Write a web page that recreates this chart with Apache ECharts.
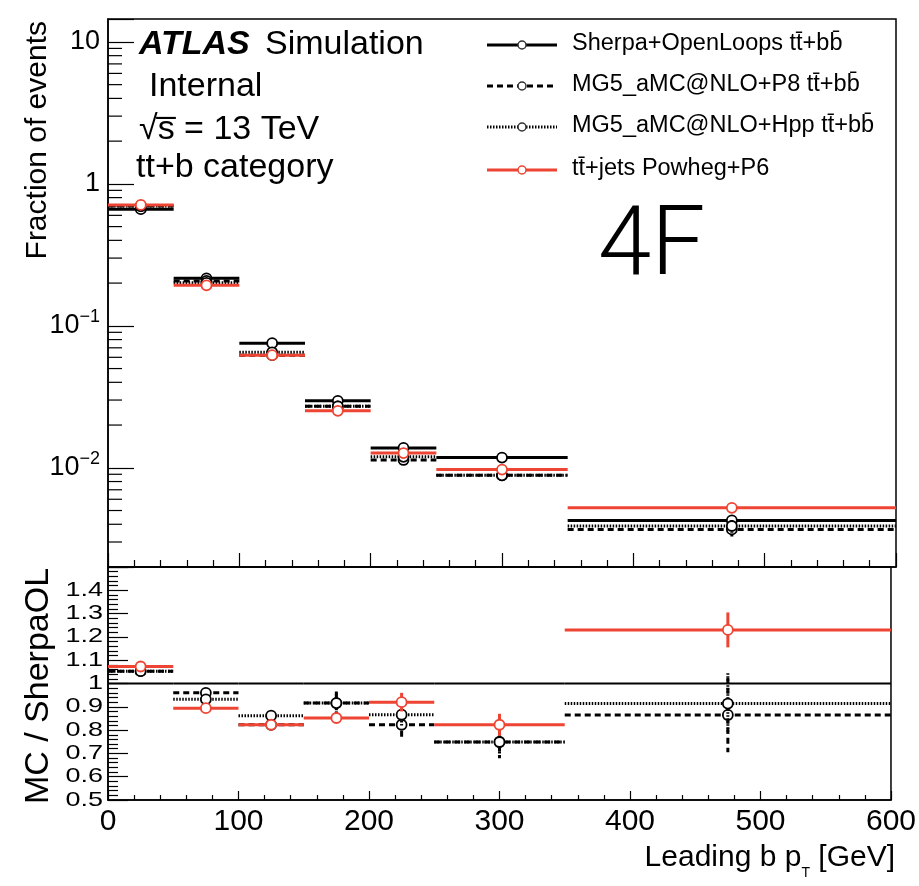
<!DOCTYPE html>
<html><head><meta charset="utf-8">
<script src="https://cdn.jsdelivr.net/npm/echarts@6/dist/echarts.min.js"></script>
<style>html,body{margin:0;padding:0;background:#fff}#c{width:919px;height:886px}</style>
</head><body><div id="c"></div>
<script>
// ---------------- data ----------------
const binEdges = [0, 50, 100, 150, 200, 250, 350, 600];

// Fraction of events (top panel)
const sherpaFrac = [0.663, 0.216, 0.0755, 0.0296, 0.0138, 0.0118, 0.00426];
const p8Frac     = [0.698, 0.207, 0.0621, 0.0271, 0.01135, 0.00885, 0.00368];
const hppFrac    = [0.698, 0.201, 0.0651, 0.0271, 0.01195, 0.00885, 0.00389];
const powhegFrac = [0.711, 0.193, 0.0621, 0.0252, 0.0127, 0.00971, 0.00522];

const sherpaFracErr = [0.004, 0.0015, 0.0006, 0.0003, 0.0002, 0.00015, 0.0001];
const p8FracErr     = [0.005, 0.002, 0.0008, 0.0005, 0.0004, 0.0003, 0.0004];
const hppFracErr    = [0.005, 0.002, 0.0008, 0.0005, 0.0004, 0.0003, 0.0004];
const powhegFracErr = [0.003, 0.001, 0.0005, 0.0003, 0.0003, 0.00025, 0.0002];

// MC / SherpaOL (ratio panel)
const sherpaRatio = [1, 1, 1, 1, 1, 1, 1];
const p8Ratio     = [1.053, 0.96, 0.823, 0.916, 0.823, 0.749, 0.865];
const hppRatio    = [1.053, 0.932, 0.862, 0.916, 0.866, 0.749, 0.914];
const powhegRatio = [1.073, 0.894, 0.823, 0.852, 0.920, 0.823, 1.230];

const p8RatioErr     = [0.008, 0.01, 0.02, 0.05, 0.06, 0.07, 0.16];
const hppRatioErr    = [0.008, 0.01, 0.02, 0.04, 0.05, 0.06, 0.13];
const powhegRatioErr = [0.005, 0.008, 0.012, 0.02, 0.04, 0.047, 0.075];

// tick labels
const ratioTickValues = [0.5, 0.6, 0.7, 0.8, 0.9, 1.0, 1.1, 1.2, 1.3, 1.4];
const ratioTickLabels = ['0.5', '0.6', '0.7', '0.8', '0.9', '1', '1.1', '1.2', '1.3', '1.4'];

const legendNames = [
  'Sherpa+OpenLoops tt\u0304+bb\u0304',
  'MG5_aMC@NLO+P8 tt\u0304+bb\u0304',
  'MG5_aMC@NLO+Hpp tt\u0304+bb\u0304',
  'tt\u0304+jets Powheg+P6'
];

// ---------------- styling ----------------
const FONT = '"Liberation Sans", Arial, Helvetica, sans-serif';
const RED = '#ee4433';
const DASH = [6, 4];
const DOT = [1.5, 1.5];

const minorLogTicks = [];
for (let e = -3; e <= 1; e++) for (let m = 2; m <= 9; m++) {
  const v = m * Math.pow(10, e);
  if (v > 0.0021 && v < 14.5) minorLogTicks.push(v);
}

function binData(vals, errs) {
  return vals.map((v, i) => [binEdges[i], binEdges[i + 1], v, errs ? errs[i] : 0]);
}

function histSeries(name, idx, vals, errs, color, dash, marker, width) {
  return {
    type: 'custom', name, xAxisIndex: idx, yAxisIndex: idx, clip: true,
    encode: { x: [0, 1], y: 2 },
    data: binData(vals, errs),
    renderItem(params, api) {
      const lo = api.value(0), hi = api.value(1), v = api.value(2), e = api.value(3);
      const mid = (lo + hi) / 2;
      const a = api.coord([lo, v]), b = api.coord([hi, v]), c = api.coord([mid, v]);
      const st = { stroke: color, lineWidth: width || 3, lineDash: dash || null };
      const children = [{ type: 'line', shape: { x1: a[0], y1: a[1], x2: b[0], y2: b[1] }, style: st }];
      if (e > 0) {
        const u = api.coord([mid, v + e]), d = api.coord([mid, v - e]);
        children.push({ type: 'line', shape: { x1: u[0], y1: u[1], x2: d[0], y2: d[1] }, style: Object.assign({}, st) });
      }
      if (marker) children.push({ type: 'circle', shape: { cx: c[0], cy: c[1], r: 5 }, style: { fill: '#fff', stroke: color, lineWidth: 1.8 } });
      return { type: 'group', children };
    }
  };
}

const minorTickSeries = {
  type: 'custom', xAxisIndex: 0, yAxisIndex: 0, clip: false, silent: true,
  encode: { x: 0, y: 1 },
  data: minorLogTicks.map(v => [0, v]),
  renderItem(params, api) {
    const p = api.coord([0, api.value(1)]);
    return { type: 'line', shape: { x1: p[0], y1: p[1], x2: p[0] + 14, y2: p[1] }, style: { stroke: '#000', lineWidth: 1.2 } };
  }
};

const ratioLabelSeries = {
  type: 'custom', xAxisIndex: 1, yAxisIndex: 1, clip: false, silent: true,
  encode: { x: 0, y: 1 },
  data: ratioTickValues.map((v, i) => [0, v, i]),
  renderItem(params, api) {
    const p = api.coord([0, api.value(1)]);
    const txt = ratioTickLabels[api.value(2)];
    return {
      type: 'text', x: p[0] - 5, y: p[1], scaleY: 0.74,
      style: { text: txt, x: 0, y: 0, font: '27px ' + FONT, fill: '#000',
        align: 'right', textAlign: 'right', verticalAlign: 'middle', textVerticalAlign: 'middle' }
    };
  }
};

function logLabel(v) {
  const l = Math.log10(v), e = Math.round(l);
  if (Math.abs(l - e) > 1e-6) return '';
  if (e === 0) return '{b|1}';
  if (e === 1) return '{b|10}';
  if (e > 1) return '{b|10}{s|' + e + '}';
  return '{b|10}{s|\u2212' + (-e) + '}';
}

function txt(text, x, y, size, opts) {
  opts = opts || {};
  return {
    type: 'text', x, y, z: 100, rotation: opts.rotation || 0,
    style: Object.assign({
      text, fill: '#000',
      font: (opts.style || '') + ' ' + (opts.weight || 'normal') + ' ' + size + 'px ' + (opts.family || FONT),
      align: opts.align || 'left', textAlign: opts.align || 'left',
      verticalAlign: 'middle', textVerticalAlign: 'middle'
    }, opts.extra || {})
  };
}

const legendStyles = [
  { color: '#000', dash: null },
  { color: '#000', dash: DASH },
  { color: '#000', dash: DOT },
  { color: RED, dash: null }
];
const legendY = [45, 86, 127, 170];
const graphics = [];
legendStyles.forEach((s, i) => {
  const y = legendY[i];
  graphics.push({ type: 'line', z: 100, shape: { x1: 487, y1: y, x2: 557, y2: y }, style: { stroke: s.color, lineWidth: 3, lineDash: s.dash } });
  graphics.push({ type: 'circle', z: 101, shape: { cx: 522, cy: y, r: 4 }, style: { fill: '#fff', stroke: s.color === RED ? RED : '#333', lineWidth: 1.5 } });
  graphics.push(txt(legendNames[i], 572, y - 1, 23.5));
});

graphics.push(txt('ATLAS', 139, 45, 34, { style: 'italic', weight: 'bold' }));
graphics.push(txt('Simulation', 265, 45, 34));
graphics.push(txt('Internal', 149, 87, 34));
graphics.push(txt('\u221As\u0305 = 13 TeV', 139, 130, 34));
graphics.push(txt('tt+b category', 136, 168, 34));
graphics.push(txt('4F', 598, 250, 96, { family: 'Roboto, ' + FONT, weight: 300 }));
graphics.push(txt('Fraction of events', 38, 21, 30, { rotation: Math.PI / 2, align: 'right' }));
graphics.push(txt('MC / SherpaOL', 39, 686, 34, { rotation: Math.PI / 2, align: 'center' }));
graphics.push({
  type: 'text', x: 895, y: 858, z: 100,
  style: {
    text: '{n|Leading b p}{s|T}{n| [GeV]}', fill: '#000',
    align: 'right', textAlign: 'right', verticalAlign: 'middle', textVerticalAlign: 'middle',
    rich: {
      n: { fontSize: 30, fontFamily: FONT, lineHeight: 44, fill: '#000', color: '#000' },
      s: { fontSize: 14, fontFamily: FONT, lineHeight: 16, verticalAlign: 'bottom', fill: '#000', color: '#000' }
    }
  }
});

const axisLineStyle = { show: true, lineStyle: { color: '#000', width: 1.5 } };

const option = {
  animation: false,
  backgroundColor: '#fff',
  grid: [
    { left: 108, right: 23, top: 19, height: 548, show: true, borderColor: '#000', borderWidth: 1.5, backgroundColor: 'transparent' },
    { left: 108, right: 23, top: 567, height: 233, show: true, borderColor: '#000', borderWidth: 1.5, backgroundColor: 'transparent' }
  ],
  xAxis: [
    { gridIndex: 0, type: 'value', min: 0, max: 600, interval: 100,
      axisLine: axisLineStyle, axisLabel: { show: false }, splitLine: { show: false },
      axisTick: { inside: true, length: 14, lineStyle: { color: '#000', width: 1.2 } },
      minorTick: { show: true, splitNumber: 5, length: 7, lineStyle: { color: '#000', width: 1.2 } } },
    { gridIndex: 1, type: 'value', min: 0, max: 600, interval: 100,
      axisLine: axisLineStyle, splitLine: { show: false },
      axisLabel: { show: true, fontSize: 30, fontFamily: FONT, color: '#000', margin: 7 },
      axisTick: { inside: true, length: 9, lineStyle: { color: '#000', width: 1.2 } },
      minorTick: { show: true, splitNumber: 5, length: 5, lineStyle: { color: '#000', width: 1.2 } } }
  ],
  yAxis: [
    { gridIndex: 0, type: 'log', logBase: 10, min: 0.002, max: 14.5,
      axisLine: axisLineStyle, splitLine: { show: false },
      axisTick: { inside: true, length: 26, lineStyle: { color: '#000', width: 1.2 } },
      axisLabel: { show: true, margin: 8, formatter: logLabel, color: '#000',
        rich: {
          b: { fontSize: 27, fontFamily: FONT, lineHeight: 36, color: '#000' },
          s: { fontSize: 18, fontFamily: FONT, lineHeight: 20, verticalAlign: 'top', color: '#000' }
        } } },
    { gridIndex: 1, type: 'value', min: 0.5, max: 1.5, interval: 0.1,
      axisLine: axisLineStyle, splitLine: { show: false },
      axisLabel: { show: false },
      axisTick: { inside: true, length: 20, lineStyle: { color: '#000', width: 1.2 } },
      minorTick: { show: true, splitNumber: 5, length: 10, lineStyle: { color: '#000', width: 1.2 } } }
  ],
  series: [
    minorTickSeries,
    histSeries('Sherpa', 0, sherpaFrac, sherpaFracErr, '#000', null, true),
    histSeries('P8', 0, p8Frac, p8FracErr, '#000', DASH, true),
    histSeries('Hpp', 0, hppFrac, hppFracErr, '#000', DOT, true),
    histSeries('Powheg', 0, powhegFrac, powhegFracErr, RED, null, true),
    histSeries('SherpaR', 1, sherpaRatio, null, '#000', null, false, 2),
    histSeries('P8R', 1, p8Ratio, p8RatioErr, '#000', DASH, true),
    histSeries('HppR', 1, hppRatio, hppRatioErr, '#000', DOT, true),
    histSeries('PowhegR', 1, powhegRatio, powhegRatioErr, RED, null, true),
    ratioLabelSeries
  ],
  graphic: graphics
};

const chart = echarts.init(document.getElementById('c'), null, { renderer: 'canvas' });
chart.setOption(option);
</script>
</body></html>
